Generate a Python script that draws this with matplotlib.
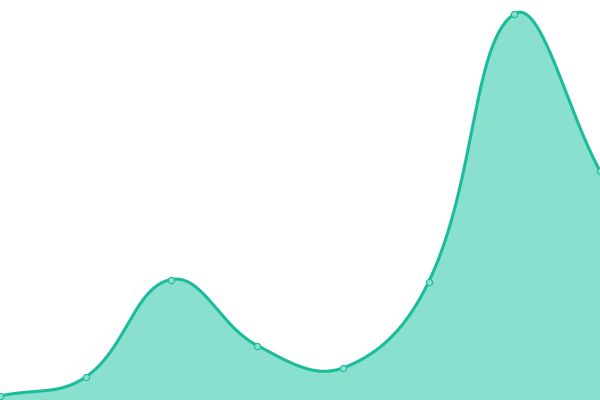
import numpy as np
import matplotlib
matplotlib.use("Agg")
import matplotlib.pyplot as plt

# values (bottom of the plot = 0)
labels = ["1", "2", "3", "4", "5", "6", "7", "8"]
values = [4, 23, 120.5, 54.5, 32, 118, 386, 229]

LINE = "#1abc9c"
FILL = "#8ae0cf"
TENSION = 0.4
W, H = 600, 400


def spline_path(px, py, t=TENSION, steps=40):
    # tension-based bezier smoothing, worked out in pixel space
    n = len(px)
    cps = []
    for i in range(n):
        p0 = np.array([px[max(i - 1, 0)], py[max(i - 1, 0)]])
        p1 = np.array([px[i], py[i]])
        p2 = np.array([px[min(i + 1, n - 1)], py[min(i + 1, n - 1)]])
        d01 = np.hypot(*(p1 - p0))
        d12 = np.hypot(*(p2 - p1))
        s01 = d01 / (d01 + d12)
        s12 = d12 / (d01 + d12)
        cps.append((p1 - t * s01 * (p2 - p0), p1 + t * s12 * (p2 - p0)))
    xs, ys = [], []
    u = np.linspace(0, 1, steps)[:, None]
    for i in range(n - 1):
        a = np.array([px[i], py[i]])
        b = cps[i][1]
        c = cps[i + 1][0]
        d = np.array([px[i + 1], py[i + 1]])
        seg = ((1 - u) ** 3) * a + 3 * ((1 - u) ** 2) * u * b + 3 * (1 - u) * u ** 2 * c + u ** 3 * d
        xs.extend(seg[:, 0])
        ys.extend(seg[:, 1])
    return np.array(xs), np.array(ys)


fig = plt.figure(figsize=(6, 4), dpi=100)
ax = fig.add_axes([0, 0, 1, 1])
n = len(values)
ax.set_xlim(0, n - 1)
ax.set_ylim(0, H)
ax.axis("off")

x = np.arange(n)
scale_x = W / (n - 1)
sx, sy = spline_path(x * scale_x, np.array(values, dtype=float))
sx = sx / scale_x

ax.fill_between(sx, sy, 0, color=FILL, linewidth=0)
ax.plot(sx, sy, color=LINE, linewidth=2.2, solid_capstyle="round")
ax.plot(x, values, "o", markersize=4.5, markerfacecolor=FILL,
        markeredgecolor=LINE, markeredgewidth=0.8)

fig.savefig("out.png", dpi=100)
